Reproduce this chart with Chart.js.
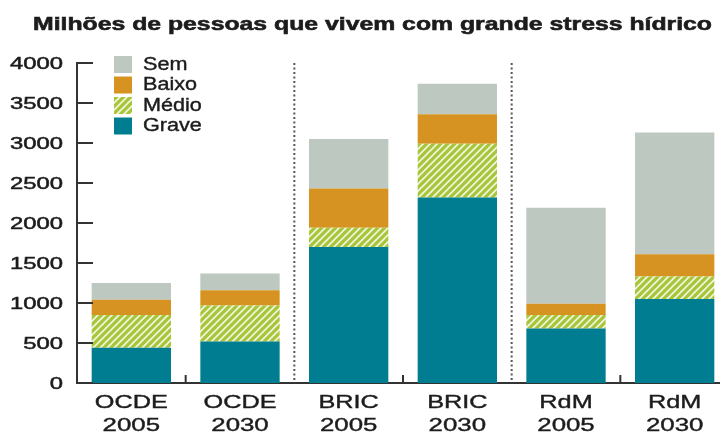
<!DOCTYPE html>
<html>
<head>
<meta charset="utf-8">
<script src="https://cdn.jsdelivr.net/npm/chart.js@4/dist/chart.umd.min.js"></script>
<style>
  html, body { margin: 0; padding: 0; background: #fff; overflow: hidden; }
  #wrap { width: 720px; height: 436px; overflow: hidden; }
</style>
</head>
<body>
<div id="wrap"><canvas id="myChart" width="729" height="436"></canvas></div>
<script>
// data
var categories = [["OCDE", "2005"], ["OCDE", "2030"], ["BRIC", "2005"], ["BRIC", "2030"], ["RdM", "2005"], ["RdM", "2030"]];
var grave = [440, 520, 1700, 2320, 680, 1050];
var medio = [410, 450, 240, 670, 170, 280];
var baixo = [190, 190, 490, 370, 140, 280];
var sem = [210, 210, 620, 380, 1200, 1520];
var yTicks = [0, 500, 1000, 1500, 2000, 2500, 3000, 3500, 4000];

var title = "Milhões de pessoas que vivem com grande stress hídrico";
var fontFam = "'Liberation Sans', Arial, sans-serif";
var textColor = "#1c1c1c";
var axisColor = "#333";

// hatch for "Médio"
function makeHatch() {
    var c = document.createElement("canvas");
    c.width = 7; c.height = 7;
    var g = c.getContext("2d");
    g.fillStyle = "#a8c63a";
    g.fillRect(0, 0, 7, 7);
    g.strokeStyle = "rgba(255,255,255,0.85)";
    g.lineWidth = 1.6;
    g.beginPath();
    for (var k = -7; k <= 14; k += 7) {
        g.moveTo(k - 1, 8);
        g.lineTo(k + 8, -1);
    }
    g.stroke();
    return g.createPattern(c, "repeat");
}

// the original type is stretched sideways, so text is drawn with a x-scale
function wideText(c, txt, x, y, font, align, sx, thick) {
    c.save();
    c.font = font;
    c.textAlign = align;
    c.textBaseline = "middle";
    c.translate(x, y);
    c.scale(sx, 1);
    c.fillText(txt, 0, 0);
    if (thick) {
        c.strokeStyle = c.fillStyle;
        c.lineWidth = thick;
        c.strokeText(txt, 0, 0);
    }
    c.restore();
}

var ctx = document.getElementById("myChart").getContext("2d");
var hatch = makeHatch();

var decor = {
    id: "decor",
    afterDraw: function (chart) {
        var c = chart.ctx, a = chart.chartArea;
        var x = chart.scales.x, y = chart.scales.y;
        c.save();
        c.fillStyle = textColor;

        // title, fitted to the original width
        c.font = "bold 19px " + fontFam;
        var tw = c.measureText(title).width;
        wideText(c, title, 33, 25, "bold 19px " + fontFam, "left", 679 / tw, 0.6);

        // y labels
        yTicks.forEach(function (v) {
            wideText(c, String(v), a.left - 14, y.getPixelForValue(v) + 1, "17px " + fontFam, "right", 1.4, 0.5);
        });
        // x labels
        categories.forEach(function (lab, i) {
            var px = x.getPixelForValue(i);
            wideText(c, lab[0], px, a.bottom + 20, "19px " + fontFam, "center", 1.33, 0.4);
            wideText(c, lab[1], px, a.bottom + 43, "19px " + fontFam, "center", 1.36, 0.4);
        });

        c.strokeStyle = axisColor;
        c.lineWidth = 2;
        // y ticks pointing inward
        yTicks.forEach(function (v) {
            var py = Math.round(y.getPixelForValue(v));
            c.beginPath();
            c.moveTo(a.left, py);
            c.lineTo(a.left + 16, py);
            c.stroke();
        });
        // small ticks inside groups, dotted lines between groups
        for (var i = 0; i < categories.length - 1; i++) {
            var px = (x.getPixelForValue(i) + x.getPixelForValue(i + 1)) / 2;
            c.beginPath();
            if (i % 2 === 0) {
                c.setLineDash([]);
                c.strokeStyle = axisColor;
                c.moveTo(px, a.bottom);
                c.lineTo(px, a.bottom - 8);
            } else {
                c.setLineDash([2, 2.5]);
                c.strokeStyle = "#555";
                c.moveTo(px, a.top);
                c.lineTo(px, a.bottom);
            }
            c.stroke();
        }
        c.setLineDash([]);

        // legend (top of stack first)
        var items = chart.data.datasets.slice().reverse();
        items.forEach(function (ds, k) {
            var ly = 56 + k * 20.5;
            c.fillStyle = ds.backgroundColor;
            c.fillRect(114, ly, 18, 17);
            c.fillStyle = textColor;
            wideText(c, ds.label, 143, ly + 9, "18px " + fontFam, "left", 1.2, 0.4);
        });
        c.restore();
    }
};

new Chart(ctx, {
    type: "bar",
    data: {
        labels: categories,
        datasets: [
            { label: "Grave", data: grave, backgroundColor: "#007d91" },
            { label: "Médio", data: medio, backgroundColor: hatch },
            { label: "Baixo", data: baixo, backgroundColor: "#d69322" },
            { label: "Sem", data: sem, backgroundColor: "#bcc8c0" }
        ]
    },
    options: {
        responsive: false,
        animation: false,
        layout: { padding: { top: 63, right: 0, left: 0, bottom: 0 } },
        datasets: { bar: { barPercentage: 0.73, categoryPercentage: 1, borderWidth: 0 } },
        plugins: {
            legend: { display: false },
            title: { display: false },
            tooltip: { enabled: false }
        },
        scales: {
            x: {
                stacked: true,
                grid: { display: false },
                border: { display: true, color: axisColor, width: 2 },
                ticks: { display: false },
                afterFit: function (s) { s.height = 53; }
            },
            y: {
                stacked: true,
                min: 0,
                max: 4000,
                grid: { display: false },
                border: { display: true, color: axisColor, width: 2 },
                ticks: { display: false, stepSize: 500 },
                afterFit: function (s) { s.width = 77; }
            }
        }
    },
    plugins: [decor]
});
</script>
</body>
</html>
